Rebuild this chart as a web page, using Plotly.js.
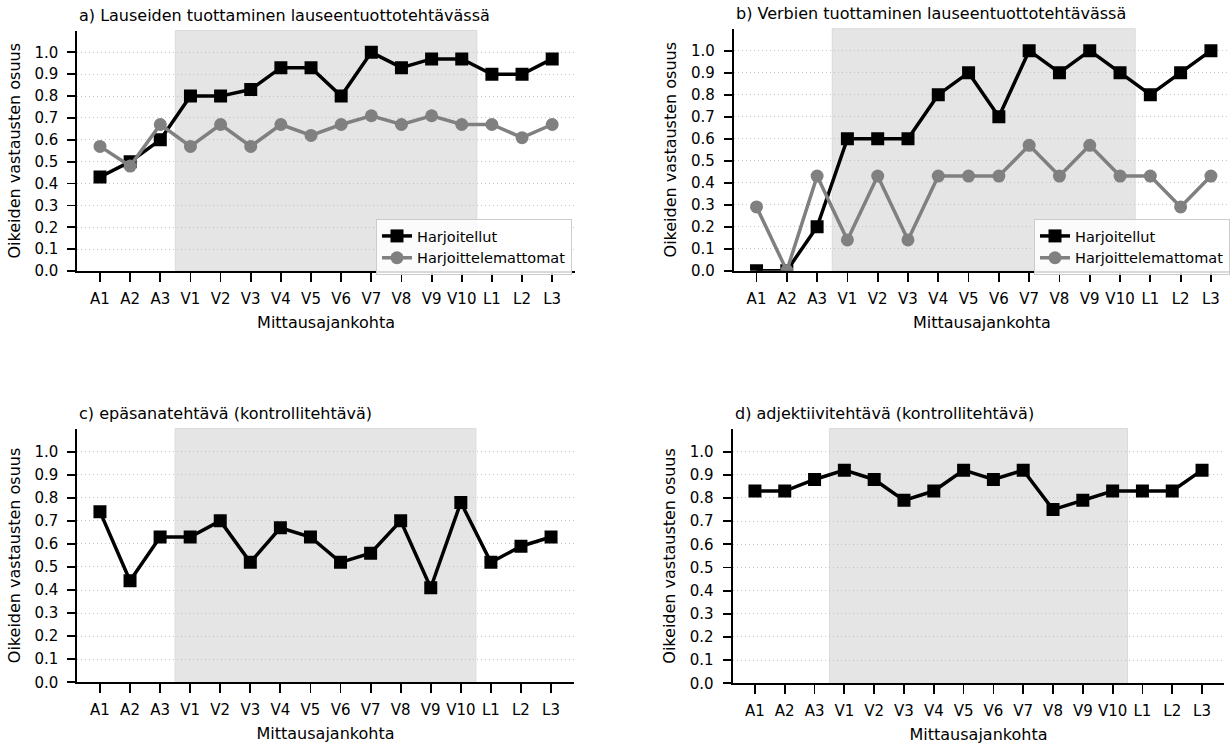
<!DOCTYPE html>
<html>
<head>
<meta charset="utf-8">
<script src="https://cdn.plot.ly/plotly-3.0.1.min.js"></script>
<style>html,body{margin:0;padding:0;background:#fff}#chart{width:1230px;height:745px}</style>
</head>
<body>
<div id="chart"></div>
<script>
const categories = ["A1","A2","A3","V1","V2","V3","V4","V5","V6","V7","V8","V9","V10","L1","L2","L3"];
const yTicks = [0.0,0.1,0.2,0.3,0.4,0.5,0.6,0.7,0.8,0.9,1.0];

const panelTitles = [
  "a) Lauseiden tuottaminen lauseentuottotehtävässä",
  "b) Verbien tuottaminen lauseentuottotehtävässä",
  "c) epäsanatehtävä (kontrollitehtävä)",
  "d) adjektiivitehtävä (kontrollitehtävä)"
];
const seriesNames = ["Harjoitellut", "Harjoittelemattomat"];
const xTitle = "Mittausajankohta";
const yTitle = "Oikeiden vastausten osuus";

const aTrained   = [0.43,0.50,0.60,0.80,0.80,0.83,0.93,0.93,0.80,1.00,0.93,0.97,0.97,0.90,0.90,0.97];
const aUntrained = [0.57,0.48,0.67,0.57,0.67,0.57,0.67,0.62,0.67,0.71,0.67,0.71,0.67,0.67,0.61,0.67];
const bTrained   = [0.00,0.00,0.20,0.60,0.60,0.60,0.80,0.90,0.70,1.00,0.90,1.00,0.90,0.80,0.90,1.00];
const bUntrained = [0.29,0.00,0.43,0.14,0.43,0.14,0.43,0.43,0.43,0.57,0.43,0.57,0.43,0.43,0.29,0.43];
const cValues    = [0.74,0.44,0.63,0.63,0.70,0.52,0.67,0.63,0.52,0.56,0.70,0.41,0.78,0.52,0.59,0.63];
const dValues    = [0.83,0.83,0.88,0.92,0.88,0.79,0.83,0.92,0.88,0.92,0.75,0.79,0.83,0.83,0.83,0.92];

const shadeStart = 2.5, shadeEnd = 12.5;

const W = 1230, H = 745;
// pixel boxes [left, right, top, bottom] and x-range end
const boxes = [
  {l: 77.4, r: 574.8, t: 30.5, b: 271, xmax: 15.75},
  {l: 733.8, r: 1230, t: 28.7, b: 270.7, xmax: 15.63},
  {l: 77.4, r: 573.6, t: 428.6, b: 682.3, xmax: 15.75},
  {l: 732.6, r: 1224.4, t: 428.5, b: 683.3, xmax: 15.75}
];
const fx = p => p / W;
const fy = p => 1 - p / H;

const FONT = "DejaVu Sans";
const black = "#000000", gray = "#808080";

const traces = [];
function line(xa, ya, y, name, color, symbol, legend, show) {
  traces.push({
    type: "scatter", mode: "lines+markers",
    x: categories, y: y, name: name,
    xaxis: xa, yaxis: ya,
    line: {color: color, width: 3.5},
    marker: {color: color, symbol: symbol, size: 13},
    legend: legend, showlegend: show,
    cliponaxis: true
  });
}
line("x", "y", aTrained, seriesNames[0], black, "square", "legend", true);
line("x", "y", aUntrained, seriesNames[1], gray, "circle", "legend", true);
line("x2", "y2", bTrained, seriesNames[0], black, "square", "legend2", true);
line("x2", "y2", bUntrained, seriesNames[1], gray, "circle", "legend2", true);
line("x3", "y3", cValues, seriesNames[0], black, "square", "legend", false);
line("x4", "y4", dValues, seriesNames[0], black, "square", "legend", false);

const layout = {
  width: W, height: H,
  margin: {l: 0, r: 0, t: 0, b: 0},
  paper_bgcolor: "#fff", plot_bgcolor: "rgba(0,0,0,0)",
  font: {family: FONT, size: 15, color: "#000"},
  shapes: [], annotations: []
};

boxes.forEach((b, i) => {
  const n = i === 0 ? "" : String(i + 1);
  layout["xaxis" + n] = {
    domain: [fx(b.l), fx(b.r)],
    anchor: "y" + n,
    type: "category",
    range: [-0.75, b.xmax],
    showgrid: false,
    showline: true, linecolor: "#000", linewidth: 2,
    ticks: "outside", ticklen: 9, tickwidth: 1.8, tickcolor: "#000",
    ticklabelstandoff: 4,
    tickfont: {family: FONT, size: 15, color: "#000"},
    title: {text: xTitle, font: {family: FONT, size: 16, color: "#000"}, standoff: 10},
    fixedrange: true
  };
  layout["yaxis" + n] = {
    domain: [fy(b.b), fy(b.t)],
    anchor: "x" + n,
    range: [0, 1.1],
    tickvals: yTicks,
    ticktext: yTicks.map(v => v.toFixed(1)),
    showgrid: true, gridcolor: "#c4c4c4", gridwidth: 1, griddash: "1px,3px",
    zeroline: false,
    showline: true, linecolor: "#000", linewidth: 2,
    ticks: "outside", ticklen: 8, tickwidth: 1.8, tickcolor: "#000",
    ticklabelstandoff: 6,
    tickfont: {family: FONT, size: 15, color: "#000"},
    title: {text: yTitle, font: {family: FONT, size: 16, color: "#000"}, standoff: 10},
    fixedrange: true
  };
  layout.shapes.push({
    type: "rect", layer: "below",
    xref: "x" + n, yref: "y" + n + " domain",
    x0: shadeStart, x1: shadeEnd, y0: 0, y1: 1,
    fillcolor: "#e5e5e5", line: {color: "#dadada", width: 1}
  });
  layout.annotations.push({
    xref: "paper", yref: "paper",
    x: fx(b.l), y: fy(b.t - 15),
    xanchor: "left", yanchor: "middle",
    text: panelTitles[i], showarrow: false,
    font: {family: FONT, size: 16, color: "#000"}
  });
});

const legendCommon = {
  bgcolor: "rgba(255,255,255,0.85)", bordercolor: "#cccccc", borderwidth: 1,
  font: {family: FONT, size: 14.5, color: "#000"},
  xanchor: "left", yanchor: "top", tracegroupgap: 0
};
layout.legend = Object.assign({}, legendCommon, {x: fx(376), y: fy(219)});
layout.legend2 = Object.assign({}, legendCommon, {x: fx(1034), y: fy(219)});

Plotly.newPlot("chart", traces, layout, {displayModeBar: false, staticPlot: true});
</script>
</body>
</html>
